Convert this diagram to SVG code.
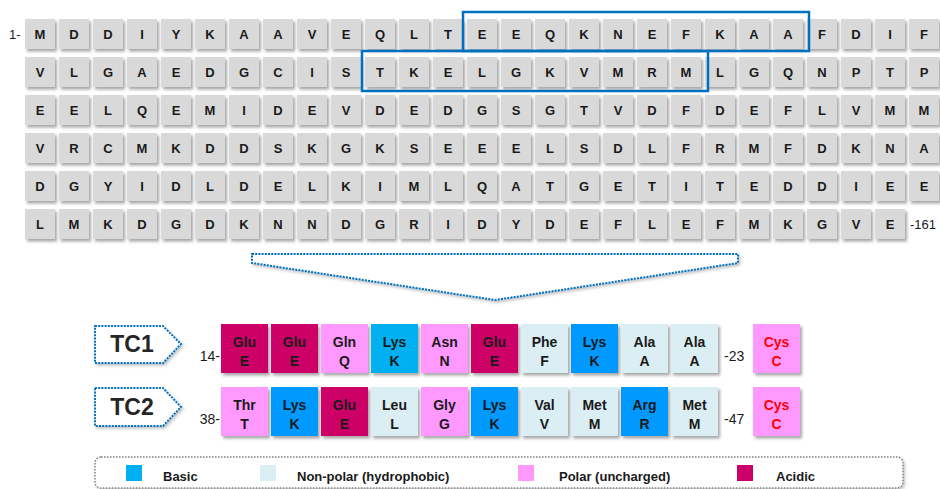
<svg xmlns="http://www.w3.org/2000/svg" width="940" height="489" viewBox="0 0 940 489">
<defs>
<filter id="sh" x="-20%" y="-20%" width="150%" height="160%">
<feDropShadow dx="2" dy="2.5" stdDeviation="1.5" flood-color="#000" flood-opacity="0.35"/>
</filter>
<filter id="sh2" x="-10%" y="-20%" width="120%" height="160%">
<feDropShadow dx="1.5" dy="2" stdDeviation="1.5" flood-color="#000" flood-opacity="0.25"/>
</filter>
</defs>
<style>
.c{fill:#D9D9D9}
.t{font-family:"Liberation Sans",Arial,sans-serif;font-weight:bold;font-size:13px;fill:#1a1a1a;text-anchor:middle}
.lbl{font-family:"Liberation Sans",Arial,sans-serif;font-size:14px;fill:#1a1a1a}
.hl{fill:none;stroke:#0070C0;stroke-width:2.5}
.dot{fill:#fff;stroke:#0070C0;stroke-width:2;stroke-dasharray:2 1.2}
.tc{font-family:"Liberation Sans",Arial,sans-serif;font-weight:bold;font-size:23px;fill:#262626;text-anchor:middle}
.r{font-family:"Liberation Sans",Arial,sans-serif;font-weight:bold;font-size:14px;fill:#1a1a1a;text-anchor:middle}
.cys{fill:#FF0000}
.ac{fill:#CC0066}.po{fill:#FF99FF}.b1{fill:#00B0F0}.b2{fill:#0099FF}.np{fill:#DAEEF3}
.lg{font-family:"Liberation Sans",Arial,sans-serif;font-weight:bold;font-size:13px;fill:#1a1a1a}
</style>
<rect width="940" height="489" fill="#fff"/>

<g id="sequence-grid">
<g filter="url(#sh)">
<g id="row1-cells">
<rect class="c" x="25" y="19" width="30" height="30"/><rect class="c" x="59" y="19" width="30" height="30"/><rect class="c" x="93" y="19" width="30" height="30"/><rect class="c" x="127" y="19" width="30" height="30"/><rect class="c" x="161" y="19" width="30" height="30"/><rect class="c" x="195" y="19" width="30" height="30"/><rect class="c" x="229" y="19" width="30" height="30"/><rect class="c" x="263" y="19" width="30" height="30"/><rect class="c" x="297" y="19" width="30" height="30"/><rect class="c" x="331" y="19" width="30" height="30"/><rect class="c" x="365" y="19" width="30" height="30"/><rect class="c" x="399" y="19" width="30" height="30"/><rect class="c" x="433" y="19" width="30" height="30"/><rect class="c" x="467" y="19" width="30" height="30"/><rect class="c" x="501" y="19" width="30" height="30"/><rect class="c" x="535" y="19" width="30" height="30"/><rect class="c" x="569" y="19" width="30" height="30"/><rect class="c" x="603" y="19" width="30" height="30"/><rect class="c" x="637" y="19" width="30" height="30"/><rect class="c" x="671" y="19" width="30" height="30"/><rect class="c" x="705" y="19" width="30" height="30"/><rect class="c" x="739" y="19" width="30" height="30"/><rect class="c" x="773" y="19" width="30" height="30"/><rect class="c" x="807" y="19" width="30" height="30"/><rect class="c" x="841" y="19" width="30" height="30"/><rect class="c" x="875" y="19" width="30" height="30"/><rect class="c" x="909" y="19" width="30" height="30"/>
</g>
<g id="row2-cells">
<rect class="c" x="25" y="57" width="30" height="30"/><rect class="c" x="59" y="57" width="30" height="30"/><rect class="c" x="93" y="57" width="30" height="30"/><rect class="c" x="127" y="57" width="30" height="30"/><rect class="c" x="161" y="57" width="30" height="30"/><rect class="c" x="195" y="57" width="30" height="30"/><rect class="c" x="229" y="57" width="30" height="30"/><rect class="c" x="263" y="57" width="30" height="30"/><rect class="c" x="297" y="57" width="30" height="30"/><rect class="c" x="331" y="57" width="30" height="30"/><rect class="c" x="365" y="57" width="30" height="30"/><rect class="c" x="399" y="57" width="30" height="30"/><rect class="c" x="433" y="57" width="30" height="30"/><rect class="c" x="467" y="57" width="30" height="30"/><rect class="c" x="501" y="57" width="30" height="30"/><rect class="c" x="535" y="57" width="30" height="30"/><rect class="c" x="569" y="57" width="30" height="30"/><rect class="c" x="603" y="57" width="30" height="30"/><rect class="c" x="637" y="57" width="30" height="30"/><rect class="c" x="671" y="57" width="30" height="30"/><rect class="c" x="705" y="57" width="30" height="30"/><rect class="c" x="739" y="57" width="30" height="30"/><rect class="c" x="773" y="57" width="30" height="30"/><rect class="c" x="807" y="57" width="30" height="30"/><rect class="c" x="841" y="57" width="30" height="30"/><rect class="c" x="875" y="57" width="30" height="30"/><rect class="c" x="909" y="57" width="30" height="30"/>
</g>
<g id="row3-cells">
<rect class="c" x="25" y="95" width="30" height="30"/><rect class="c" x="59" y="95" width="30" height="30"/><rect class="c" x="93" y="95" width="30" height="30"/><rect class="c" x="127" y="95" width="30" height="30"/><rect class="c" x="161" y="95" width="30" height="30"/><rect class="c" x="195" y="95" width="30" height="30"/><rect class="c" x="229" y="95" width="30" height="30"/><rect class="c" x="263" y="95" width="30" height="30"/><rect class="c" x="297" y="95" width="30" height="30"/><rect class="c" x="331" y="95" width="30" height="30"/><rect class="c" x="365" y="95" width="30" height="30"/><rect class="c" x="399" y="95" width="30" height="30"/><rect class="c" x="433" y="95" width="30" height="30"/><rect class="c" x="467" y="95" width="30" height="30"/><rect class="c" x="501" y="95" width="30" height="30"/><rect class="c" x="535" y="95" width="30" height="30"/><rect class="c" x="569" y="95" width="30" height="30"/><rect class="c" x="603" y="95" width="30" height="30"/><rect class="c" x="637" y="95" width="30" height="30"/><rect class="c" x="671" y="95" width="30" height="30"/><rect class="c" x="705" y="95" width="30" height="30"/><rect class="c" x="739" y="95" width="30" height="30"/><rect class="c" x="773" y="95" width="30" height="30"/><rect class="c" x="807" y="95" width="30" height="30"/><rect class="c" x="841" y="95" width="30" height="30"/><rect class="c" x="875" y="95" width="30" height="30"/><rect class="c" x="909" y="95" width="30" height="30"/>
</g>
<g id="row4-cells">
<rect class="c" x="25" y="133" width="30" height="30"/><rect class="c" x="59" y="133" width="30" height="30"/><rect class="c" x="93" y="133" width="30" height="30"/><rect class="c" x="127" y="133" width="30" height="30"/><rect class="c" x="161" y="133" width="30" height="30"/><rect class="c" x="195" y="133" width="30" height="30"/><rect class="c" x="229" y="133" width="30" height="30"/><rect class="c" x="263" y="133" width="30" height="30"/><rect class="c" x="297" y="133" width="30" height="30"/><rect class="c" x="331" y="133" width="30" height="30"/><rect class="c" x="365" y="133" width="30" height="30"/><rect class="c" x="399" y="133" width="30" height="30"/><rect class="c" x="433" y="133" width="30" height="30"/><rect class="c" x="467" y="133" width="30" height="30"/><rect class="c" x="501" y="133" width="30" height="30"/><rect class="c" x="535" y="133" width="30" height="30"/><rect class="c" x="569" y="133" width="30" height="30"/><rect class="c" x="603" y="133" width="30" height="30"/><rect class="c" x="637" y="133" width="30" height="30"/><rect class="c" x="671" y="133" width="30" height="30"/><rect class="c" x="705" y="133" width="30" height="30"/><rect class="c" x="739" y="133" width="30" height="30"/><rect class="c" x="773" y="133" width="30" height="30"/><rect class="c" x="807" y="133" width="30" height="30"/><rect class="c" x="841" y="133" width="30" height="30"/><rect class="c" x="875" y="133" width="30" height="30"/><rect class="c" x="909" y="133" width="30" height="30"/>
</g>
<g id="row5-cells">
<rect class="c" x="25" y="171" width="30" height="30"/><rect class="c" x="59" y="171" width="30" height="30"/><rect class="c" x="93" y="171" width="30" height="30"/><rect class="c" x="127" y="171" width="30" height="30"/><rect class="c" x="161" y="171" width="30" height="30"/><rect class="c" x="195" y="171" width="30" height="30"/><rect class="c" x="229" y="171" width="30" height="30"/><rect class="c" x="263" y="171" width="30" height="30"/><rect class="c" x="297" y="171" width="30" height="30"/><rect class="c" x="331" y="171" width="30" height="30"/><rect class="c" x="365" y="171" width="30" height="30"/><rect class="c" x="399" y="171" width="30" height="30"/><rect class="c" x="433" y="171" width="30" height="30"/><rect class="c" x="467" y="171" width="30" height="30"/><rect class="c" x="501" y="171" width="30" height="30"/><rect class="c" x="535" y="171" width="30" height="30"/><rect class="c" x="569" y="171" width="30" height="30"/><rect class="c" x="603" y="171" width="30" height="30"/><rect class="c" x="637" y="171" width="30" height="30"/><rect class="c" x="671" y="171" width="30" height="30"/><rect class="c" x="705" y="171" width="30" height="30"/><rect class="c" x="739" y="171" width="30" height="30"/><rect class="c" x="773" y="171" width="30" height="30"/><rect class="c" x="807" y="171" width="30" height="30"/><rect class="c" x="841" y="171" width="30" height="30"/><rect class="c" x="875" y="171" width="30" height="30"/><rect class="c" x="909" y="171" width="30" height="30"/>
</g>
<g id="row6-cells">
<rect class="c" x="25" y="209" width="30" height="30"/><rect class="c" x="59" y="209" width="30" height="30"/><rect class="c" x="93" y="209" width="30" height="30"/><rect class="c" x="127" y="209" width="30" height="30"/><rect class="c" x="161" y="209" width="30" height="30"/><rect class="c" x="195" y="209" width="30" height="30"/><rect class="c" x="229" y="209" width="30" height="30"/><rect class="c" x="263" y="209" width="30" height="30"/><rect class="c" x="297" y="209" width="30" height="30"/><rect class="c" x="331" y="209" width="30" height="30"/><rect class="c" x="365" y="209" width="30" height="30"/><rect class="c" x="399" y="209" width="30" height="30"/><rect class="c" x="433" y="209" width="30" height="30"/><rect class="c" x="467" y="209" width="30" height="30"/><rect class="c" x="501" y="209" width="30" height="30"/><rect class="c" x="535" y="209" width="30" height="30"/><rect class="c" x="569" y="209" width="30" height="30"/><rect class="c" x="603" y="209" width="30" height="30"/><rect class="c" x="637" y="209" width="30" height="30"/><rect class="c" x="671" y="209" width="30" height="30"/><rect class="c" x="705" y="209" width="30" height="30"/><rect class="c" x="739" y="209" width="30" height="30"/><rect class="c" x="773" y="209" width="30" height="30"/><rect class="c" x="807" y="209" width="30" height="30"/><rect class="c" x="841" y="209" width="30" height="30"/><rect class="c" x="875" y="209" width="30" height="30"/>
</g>
</g>
<g id="row1-letters">
<text class="t" x="40" y="39">M</text><text class="t" x="74" y="39">D</text><text class="t" x="108" y="39">D</text><text class="t" x="142" y="39">I</text><text class="t" x="176" y="39">Y</text><text class="t" x="210" y="39">K</text><text class="t" x="244" y="39">A</text><text class="t" x="278" y="39">A</text><text class="t" x="312" y="39">V</text><text class="t" x="346" y="39">E</text><text class="t" x="380" y="39">Q</text><text class="t" x="414" y="39">L</text><text class="t" x="448" y="39">T</text><text class="t" x="482" y="39">E</text><text class="t" x="516" y="39">E</text><text class="t" x="550" y="39">Q</text><text class="t" x="584" y="39">K</text><text class="t" x="618" y="39">N</text><text class="t" x="652" y="39">E</text><text class="t" x="686" y="39">F</text><text class="t" x="720" y="39">K</text><text class="t" x="754" y="39">A</text><text class="t" x="788" y="39">A</text><text class="t" x="822" y="39">F</text><text class="t" x="856" y="39">D</text><text class="t" x="890" y="39">I</text><text class="t" x="924" y="39">F</text>
</g>
<g id="row2-letters">
<text class="t" x="40" y="77">V</text><text class="t" x="74" y="77">L</text><text class="t" x="108" y="77">G</text><text class="t" x="142" y="77">A</text><text class="t" x="176" y="77">E</text><text class="t" x="210" y="77">D</text><text class="t" x="244" y="77">G</text><text class="t" x="278" y="77">C</text><text class="t" x="312" y="77">I</text><text class="t" x="346" y="77">S</text><text class="t" x="380" y="77">T</text><text class="t" x="414" y="77">K</text><text class="t" x="448" y="77">E</text><text class="t" x="482" y="77">L</text><text class="t" x="516" y="77">G</text><text class="t" x="550" y="77">K</text><text class="t" x="584" y="77">V</text><text class="t" x="618" y="77">M</text><text class="t" x="652" y="77">R</text><text class="t" x="686" y="77">M</text><text class="t" x="720" y="77">L</text><text class="t" x="754" y="77">G</text><text class="t" x="788" y="77">Q</text><text class="t" x="822" y="77">N</text><text class="t" x="856" y="77">P</text><text class="t" x="890" y="77">T</text><text class="t" x="924" y="77">P</text>
</g>
<g id="row3-letters">
<text class="t" x="40" y="115">E</text><text class="t" x="74" y="115">E</text><text class="t" x="108" y="115">L</text><text class="t" x="142" y="115">Q</text><text class="t" x="176" y="115">E</text><text class="t" x="210" y="115">M</text><text class="t" x="244" y="115">I</text><text class="t" x="278" y="115">D</text><text class="t" x="312" y="115">E</text><text class="t" x="346" y="115">V</text><text class="t" x="380" y="115">D</text><text class="t" x="414" y="115">E</text><text class="t" x="448" y="115">D</text><text class="t" x="482" y="115">G</text><text class="t" x="516" y="115">S</text><text class="t" x="550" y="115">G</text><text class="t" x="584" y="115">T</text><text class="t" x="618" y="115">V</text><text class="t" x="652" y="115">D</text><text class="t" x="686" y="115">F</text><text class="t" x="720" y="115">D</text><text class="t" x="754" y="115">E</text><text class="t" x="788" y="115">F</text><text class="t" x="822" y="115">L</text><text class="t" x="856" y="115">V</text><text class="t" x="890" y="115">M</text><text class="t" x="924" y="115">M</text>
</g>
<g id="row4-letters">
<text class="t" x="40" y="153">V</text><text class="t" x="74" y="153">R</text><text class="t" x="108" y="153">C</text><text class="t" x="142" y="153">M</text><text class="t" x="176" y="153">K</text><text class="t" x="210" y="153">D</text><text class="t" x="244" y="153">D</text><text class="t" x="278" y="153">S</text><text class="t" x="312" y="153">K</text><text class="t" x="346" y="153">G</text><text class="t" x="380" y="153">K</text><text class="t" x="414" y="153">S</text><text class="t" x="448" y="153">E</text><text class="t" x="482" y="153">E</text><text class="t" x="516" y="153">E</text><text class="t" x="550" y="153">L</text><text class="t" x="584" y="153">S</text><text class="t" x="618" y="153">D</text><text class="t" x="652" y="153">L</text><text class="t" x="686" y="153">F</text><text class="t" x="720" y="153">R</text><text class="t" x="754" y="153">M</text><text class="t" x="788" y="153">F</text><text class="t" x="822" y="153">D</text><text class="t" x="856" y="153">K</text><text class="t" x="890" y="153">N</text><text class="t" x="924" y="153">A</text>
</g>
<g id="row5-letters">
<text class="t" x="40" y="191">D</text><text class="t" x="74" y="191">G</text><text class="t" x="108" y="191">Y</text><text class="t" x="142" y="191">I</text><text class="t" x="176" y="191">D</text><text class="t" x="210" y="191">L</text><text class="t" x="244" y="191">D</text><text class="t" x="278" y="191">E</text><text class="t" x="312" y="191">L</text><text class="t" x="346" y="191">K</text><text class="t" x="380" y="191">I</text><text class="t" x="414" y="191">M</text><text class="t" x="448" y="191">L</text><text class="t" x="482" y="191">Q</text><text class="t" x="516" y="191">A</text><text class="t" x="550" y="191">T</text><text class="t" x="584" y="191">G</text><text class="t" x="618" y="191">E</text><text class="t" x="652" y="191">T</text><text class="t" x="686" y="191">I</text><text class="t" x="720" y="191">T</text><text class="t" x="754" y="191">E</text><text class="t" x="788" y="191">D</text><text class="t" x="822" y="191">D</text><text class="t" x="856" y="191">I</text><text class="t" x="890" y="191">E</text><text class="t" x="924" y="191">E</text>
</g>
<g id="row6-letters">
<text class="t" x="40" y="229">L</text><text class="t" x="74" y="229">M</text><text class="t" x="108" y="229">K</text><text class="t" x="142" y="229">D</text><text class="t" x="176" y="229">G</text><text class="t" x="210" y="229">D</text><text class="t" x="244" y="229">K</text><text class="t" x="278" y="229">N</text><text class="t" x="312" y="229">N</text><text class="t" x="346" y="229">D</text><text class="t" x="380" y="229">G</text><text class="t" x="414" y="229">R</text><text class="t" x="448" y="229">I</text><text class="t" x="482" y="229">D</text><text class="t" x="516" y="229">Y</text><text class="t" x="550" y="229">D</text><text class="t" x="584" y="229">E</text><text class="t" x="618" y="229">F</text><text class="t" x="652" y="229">L</text><text class="t" x="686" y="229">E</text><text class="t" x="720" y="229">F</text><text class="t" x="754" y="229">M</text><text class="t" x="788" y="229">K</text><text class="t" x="822" y="229">G</text><text class="t" x="856" y="229">V</text><text class="t" x="890" y="229">E</text>
</g>
<text class="lbl" x="9" y="39" style="font-size:13px">1-</text>
<text class="lbl" x="910" y="229" style="font-size:13px">-161</text>
</g>

<g id="highlight-tc1"><rect class="hl" x="463" y="12" width="346" height="39"/></g>
<g id="highlight-tc2"><rect class="hl" x="362" y="51" width="346" height="40"/></g>

<g id="connectors">
<polygon class="dot" filter="url(#sh2)" points="252,254 738,254 738,263 495,300 252,263"/>
</g>

<g id="tc1-label">
<polygon class="dot" filter="url(#sh2)" points="95,326 163,326 181,344 163,363 95,363"/>
<text class="tc" x="132" y="352">TC1</text>
</g>
<g id="tc2-label">
<polygon class="dot" filter="url(#sh2)" points="95,388 163,388 181,407 163,426 95,426"/>
<text class="tc" x="132" y="415">TC2</text>
</g>

<g id="tc1-residues">
<g filter="url(#sh)">
<rect class="ac" x="221" y="324" width="47" height="49"/><rect class="ac" x="271" y="324" width="47" height="49"/><rect class="po" x="321" y="324" width="47" height="49"/><rect class="b1" x="371" y="324" width="47" height="49"/><rect class="po" x="421" y="324" width="47" height="49"/><rect class="ac" x="471" y="324" width="47" height="49"/><rect class="np" x="521" y="324" width="47" height="49"/><rect class="b2" x="571" y="324" width="47" height="49"/><rect class="np" x="621" y="324" width="47" height="49"/><rect class="np" x="671" y="324" width="47" height="49"/>
</g>
<text class="r" x="244.5" y="347">Glu</text><text class="r" x="244.5" y="366">E</text>
<text class="r" x="294.5" y="347">Glu</text><text class="r" x="294.5" y="366">E</text>
<text class="r" x="344.5" y="347">Gln</text><text class="r" x="344.5" y="366">Q</text>
<text class="r" x="394.5" y="347">Lys</text><text class="r" x="394.5" y="366">K</text>
<text class="r" x="444.5" y="347">Asn</text><text class="r" x="444.5" y="366">N</text>
<text class="r" x="494.5" y="347">Glu</text><text class="r" x="494.5" y="366">E</text>
<text class="r" x="544.5" y="347">Phe</text><text class="r" x="544.5" y="366">F</text>
<text class="r" x="594.5" y="347">Lys</text><text class="r" x="594.5" y="366">K</text>
<text class="r" x="644.5" y="347">Ala</text><text class="r" x="644.5" y="366">A</text>
<text class="r" x="694.5" y="347">Ala</text><text class="r" x="694.5" y="366">A</text>
<text class="lbl" x="220" y="361" text-anchor="end">14-</text>
<text class="lbl" x="724" y="361">-23</text>
</g>
<g id="tc1-cys">
<rect class="po" filter="url(#sh)" x="753" y="324" width="47" height="49"/>
<text class="r cys" x="776.5" y="347">Cys</text><text class="r cys" x="776.5" y="366">C</text>
</g>

<g id="tc2-residues">
<g filter="url(#sh)">
<rect class="po" x="221" y="387" width="47" height="49"/><rect class="b2" x="271" y="387" width="47" height="49"/><rect class="ac" x="321" y="387" width="47" height="49"/><rect class="np" x="371" y="387" width="47" height="49"/><rect class="po" x="421" y="387" width="47" height="49"/><rect class="b2" x="471" y="387" width="47" height="49"/><rect class="np" x="521" y="387" width="47" height="49"/><rect class="np" x="571" y="387" width="47" height="49"/><rect class="b2" x="621" y="387" width="47" height="49"/><rect class="np" x="671" y="387" width="47" height="49"/>
</g>
<text class="r" x="244.5" y="410">Thr</text><text class="r" x="244.5" y="429">T</text>
<text class="r" x="294.5" y="410">Lys</text><text class="r" x="294.5" y="429">K</text>
<text class="r" x="344.5" y="410">Glu</text><text class="r" x="344.5" y="429">E</text>
<text class="r" x="394.5" y="410">Leu</text><text class="r" x="394.5" y="429">L</text>
<text class="r" x="444.5" y="410">Gly</text><text class="r" x="444.5" y="429">G</text>
<text class="r" x="494.5" y="410">Lys</text><text class="r" x="494.5" y="429">K</text>
<text class="r" x="544.5" y="410">Val</text><text class="r" x="544.5" y="429">V</text>
<text class="r" x="594.5" y="410">Met</text><text class="r" x="594.5" y="429">M</text>
<text class="r" x="644.5" y="410">Arg</text><text class="r" x="644.5" y="429">R</text>
<text class="r" x="694.5" y="410">Met</text><text class="r" x="694.5" y="429">M</text>
<text class="lbl" x="220" y="424" text-anchor="end">38-</text>
<text class="lbl" x="724" y="424">-47</text>
</g>
<g id="tc2-cys">
<rect class="po" filter="url(#sh)" x="753" y="387" width="47" height="49"/>
<text class="r cys" x="776.5" y="410">Cys</text><text class="r cys" x="776.5" y="429">C</text>
</g>

<g id="legend">
<rect x="95" y="457" width="808" height="31" rx="6" fill="#fff" stroke="#808080" stroke-width="1.5" stroke-dasharray="1.5 1.5" filter="url(#sh2)"/>
<rect class="b1" x="126" y="465" width="16" height="16"/>
<text class="lg" x="163" y="481">Basic</text>
<rect class="np" x="260" y="465" width="16" height="16"/>
<text class="lg" x="297" y="481">Non-polar (hydrophobic)</text>
<rect class="po" x="518" y="465" width="16" height="16"/>
<text class="lg" x="559" y="481">Polar (uncharged)</text>
<rect class="ac" x="737" y="465" width="16" height="16"/>
<text class="lg" x="776" y="481">Acidic</text>
</g>
</svg>
